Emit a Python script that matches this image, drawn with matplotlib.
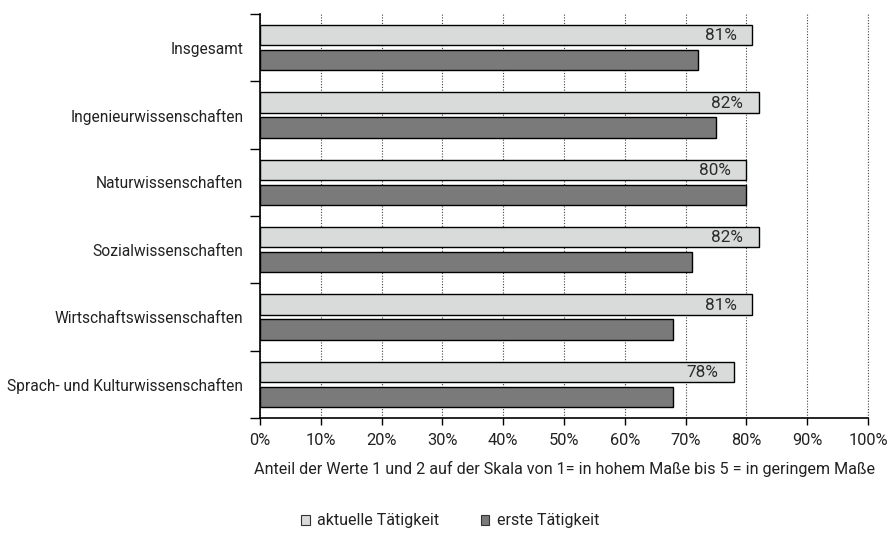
import matplotlib
matplotlib.use("Agg")
import matplotlib.pyplot as plt
from matplotlib.patches import Patch
from matplotlib.ticker import FixedLocator
import numpy as np

categories = [
    "Insgesamt",
    "Ingenieurwissenschaften",
    "Naturwissenschaften",
    "Sozialwissenschaften",
    "Wirtschaftswissenschaften",
    "Sprach- und Kulturwissenschaften",
]
aktuelle = [81, 82, 80, 82, 81, 78]
erste = [72, 75, 80, 71, 68, 68]
series_names = ["aktuelle Tätigkeit", "erste Tätigkeit"]
xticks = list(range(0, 101, 10))
xlabel = "Anteil der Werte 1 und 2 auf der Skala von 1= in hohem Maße bis 5 = in geringem Maße"

light = "#d9dbda"
dark = "#7a7a7a"
txt = "#222222"

plt.rcParams["font.family"] = ["Roboto", "DejaVu Sans"]
plt.rcParams["font.size"] = 11.5
plt.rcParams["text.color"] = txt
plt.rcParams["axes.labelcolor"] = txt
plt.rcParams["xtick.color"] = "black"
plt.rcParams["ytick.color"] = "black"
plt.rcParams["xtick.labelcolor"] = txt
plt.rcParams["ytick.labelcolor"] = txt

fig = plt.figure(figsize=(8.9, 5.38), dpi=100)
ax = fig.add_axes([260 / 890, 1 - 418 / 538, 608 / 890, 404 / 538])

y = np.arange(len(categories))
h = 0.30
off = 0.187
ax.barh(y - off, aktuelle, height=h, color=light, edgecolor="black", linewidth=1.0, zorder=3)
ax.barh(y + off, erste, height=h, color=dark, edgecolor="black", linewidth=1.0, zorder=3)

for yi, v in zip(y, aktuelle):
    ax.text(v - 2.6, yi - off + 0.01, f"{v}%", ha="right", va="center", fontsize=12.3,
            color="#2a2a2a", zorder=4)

ax.set_xlim(0, 100)
ax.set_ylim(len(categories) - 0.5, -0.5)
ax.set_xticks(xticks)
ax.set_xticklabels([f"{t}%" for t in xticks], fontsize=11.8)
ax.set_yticks(y)
ax.set_yticklabels(categories, fontsize=11.2)
ax.yaxis.set_minor_locator(FixedLocator(np.arange(-0.5, len(categories), 1.0)))
ax.tick_params(axis="y", which="major", length=0, pad=12)
ax.tick_params(axis="y", which="minor", length=7, width=1, direction="out")
ax.tick_params(axis="x", which="major", length=5, width=1, direction="out", pad=6)

ax.grid(axis="x", linestyle=(0, (1, 1.5)), color="#444444", linewidth=0.8, zorder=0)
ax.axvline(100, linestyle=(0, (1, 1.5)), color="#444444", linewidth=0.8, zorder=0, clip_on=False)
for s in ["top", "right"]:
    ax.spines[s].set_visible(False)
ax.spines["left"].set_linewidth(1.2)
ax.spines["bottom"].set_linewidth(1.2)
ax.set_xlabel(xlabel, labelpad=9, fontsize=11.6)

handles = [
    Patch(facecolor=light, edgecolor="#333333", linewidth=0.8),
    Patch(facecolor=dark, edgecolor="#333333", linewidth=0.8),
]
fig.legend(handles, series_names, loc="center", bbox_to_anchor=(450 / 890, 1 - 521 / 538), ncol=2,
           frameon=False, fontsize=11.5, handlelength=0.55, handleheight=0.55, handletextpad=0.45,
           columnspacing=2.6)

fig.savefig("out.png", dpi=100)
